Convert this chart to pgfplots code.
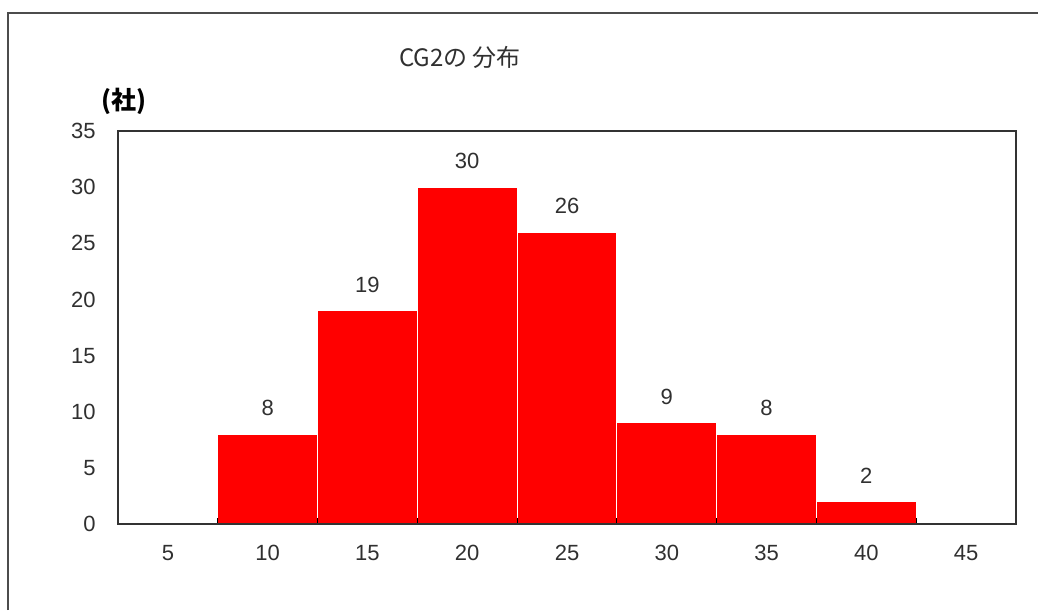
\documentclass[border=0pt]{standalone}
\usepackage{fontspec}
\setmainfont{Liberation Sans}
\newfontfamily\jp{Noto Sans CJK JP}
\usepackage{pgfplots}
\pgfplotsset{compat=1.18}
\definecolor{txt}{HTML}{303030}
\begin{document}
\begin{tikzpicture}[x=1pt,y=1pt]
\path[use as bounding box] (0,0) rectangle (519,-305);
\draw[line width=0.6pt, color=black!70] (4,-305) -- (4,-6.5) -- (519,-6.5);
\node[font=\jp\fontsize{12}{14}\selectfont, text=txt] at (230,-28.5) {CG2の 分布};
\node[font=\jp\bfseries\fontsize{12.5}{14}\selectfont, text=black] at (62,-50.5) {(社)};
\begin{axis}[
  at={(59pt,-262pt)}, anchor=south west,
  scale only axis, width=449pt, height=196.5pt,
  xmin=-0.5, xmax=8.5, ymin=0, ymax=35,
  /pgf/number format/assume math mode=true,
  ytick={0,5,...,35},
  xtick={0,...,8},
  xticklabels={5,10,15,20,25,30,35,40,45},
  minor x tick num=1,
  tick align=inside,
  tick pos=left,
  major tick style={draw=none},
  minor tick length=3pt,
  minor x tick style={black, line width=0.6pt},
  axis line style={black!80, line width=0.6pt},
  axis on top,
  tick label style={font=\fontsize{11}{13}\selectfont, text=txt},
  xticklabel style={anchor=center, yshift=-14.5pt},
  yticklabel style={anchor=east, inner sep=0pt, xshift=-11pt},
  every node near coord/.append style={font=\fontsize{11}{13}\selectfont, text=txt, anchor=center, yshift=13pt},
]
\addplot[ybar, bar width=1, fill=red, draw=white, line width=0.5pt, nodes near coords]
  coordinates {(1,8) (2,19) (3,30) (4,26) (5,9) (6,8) (7,2)};
\end{axis}
\end{tikzpicture}
\end{document}
